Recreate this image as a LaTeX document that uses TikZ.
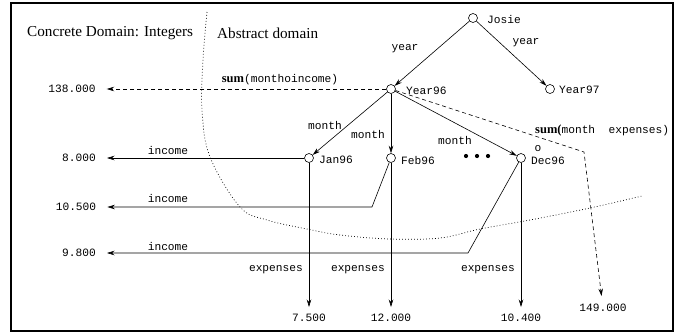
\documentclass[tikz,border=0pt]{standalone}
\usepackage{fontspec}
\setmainfont{Liberation Serif}
\setmonofont{Liberation Mono}
\usetikzlibrary{arrows.meta}
\begin{document}
\begin{tikzpicture}[x=1pt,y=-1pt,
 dot/.style={circle,draw,inner sep=0pt,minimum size=9pt,line width=0.6pt},
 lbl/.style={font=\fontsize{11.2}{12}\ttfamily,inner sep=0pt},
 hd/.style={font=\fontsize{15.2}{17}\selectfont,inner sep=0pt},
 conn/.style={line width=0.6pt,-{Stealth[length=7.5pt,width=4.5pt]}},
 dconn/.style={conn,dash pattern=on 4pt off 3pt},
]
\useasboundingbox (0,0) rectangle (677,333);
\draw[line width=1.5pt] (11,3) rectangle (673,331);

% headings
\node[hd,anchor=west] (hconc) at (27,33) {Concrete Domain: Integers};
\node[hd,anchor=west] (habs) at (217,33) {Abstract domain};

% dotted domain boundary
\draw[line width=0.7pt,dash pattern=on 0.8pt off 2.2pt] plot[smooth,tension=0.6] coordinates {(207,12) (203,60) (202,110) (210,157) (240,207) (267,220) (307,229) (340,235) (390,239) (440,238) (480,229) (530,220) (590,208) (642,196)};

% tree nodes
\node[dot] (josie) at (473,18) {};
\node[dot] (y96) at (391,89) {};
\node[dot] (y97) at (550,89) {};
\node[dot] (jan) at (309,158) {};
\node[dot] (feb) at (391,158) {};
\node[dot] (dec) at (521,158) {};

\node[lbl,anchor=west] (ljosie) at (487,19) {Josie};
\node[lbl,anchor=west] (ly96) at (406,91) {Year96};
\node[lbl,anchor=west] (ly97) at (559,90) {Year97};
\node[lbl,anchor=west] (ljan) at (319,160) {Jan96};
\node[lbl,anchor=west] (lfeb) at (401,160) {Feb96};
\node[lbl,anchor=west] (ldec) at (531,161) {Dec96};
\node[lbl] (lo) at (538,149) {o};

% dots
\fill (466,156) circle (2.1);
\fill (477,156) circle (2.1);
\fill (488,156) circle (2.1);

% year edges
\draw[conn] (josie) -- (y96);
\draw[conn] (josie) -- (y97);
\node[lbl] (yl1) at (405,49) {year};
\node[lbl] (yl2) at (526,43) {year};

% month edges
\draw[conn] (y96) -- (jan);
\draw[conn] (y96) -- (feb);
\draw[conn] (y96) -- (dec);
\node[lbl] (ml1) at (325,125) {month};
\node[lbl] (ml2) at (368,134) {month};
\node[lbl] (ml3) at (455,140) {month};

% values
\node[lbl] (v138) at (72,89) {138.000};
\node[lbl] (v8) at (79,158) {8.000};
\node[lbl] (v105) at (76,207) {10.500};
\node[lbl] (v98) at (79,253) {9.800};
\node[lbl] (v75) at (309,318) {7.500};
\node[lbl] (v12) at (391,318) {12.000};
\node[lbl] (v104) at (521,318) {10.400};
\node[lbl] (v149) at (603,308) {149.000};

% income
\coordinate (fb) at (372,207);
\coordinate (db) at (468,253);
\draw[conn,shorten >=11pt] (jan) -- (v8);
\draw[conn,shorten >=11pt] (feb) -- (fb) -- (v105);
\draw[conn,shorten >=11pt] (dec) -- (db) -- (v98);
\node[lbl] (il1) at (168,150) {income};
\node[lbl] (il2) at (168,198) {income};
\node[lbl] (il3) at (168,246) {income};

% expenses
\draw[conn,shorten >=7pt] (jan) -- (v75);
\draw[conn,shorten >=7pt] (feb) -- (v12);
\draw[conn,shorten >=7pt] (dec) -- (v104);
\node[lbl,anchor=east] (el1) at (303,270) {expenses};
\node[lbl,anchor=east] (el2) at (385,270) {expenses};
\node[lbl,anchor=east] (el3) at (515,270) {expenses};

% sums
\draw[dconn,shorten >=11pt] (y96) -- (v138);
\node[inner sep=0pt] (s1) at (280,80) {\textbf{\fontsize{12.5}{14}\selectfont sum}{\fontsize{11.2}{12}\ttfamily(monthoincome)}};
\coordinate (sb) at (584,152);
\draw[dconn,shorten >=8pt] (y96) -- (sb) -- (v149);
\node[inner sep=0pt,anchor=west] (s2) at (535,130) {\textbf{\fontsize{12.5}{14}\selectfont sum(}{\fontsize{11.2}{12}\ttfamily month~~expenses)}};
\end{tikzpicture}
\end{document}
